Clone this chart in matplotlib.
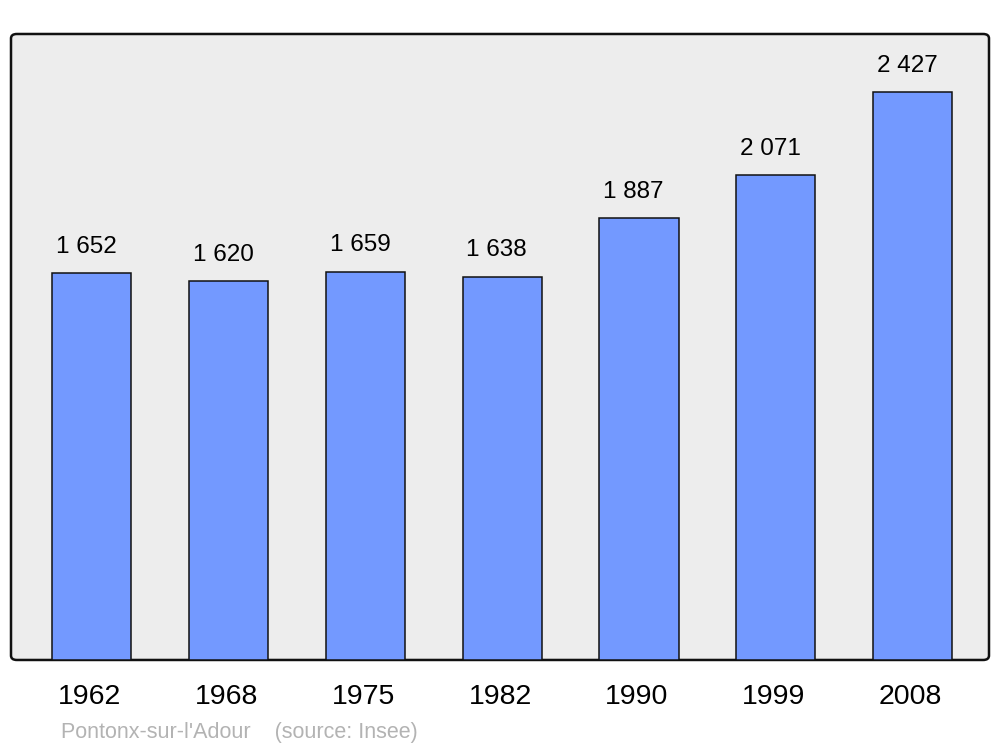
import matplotlib
matplotlib.use("Agg")
import matplotlib.pyplot as plt
from matplotlib.patches import FancyBboxPatch
from matplotlib.transforms import ScaledTranslation

years = ["1962", "1968", "1975", "1982", "1990", "1999", "2008"]
population = [1652, 1620, 1659, 1638, 1887, 2071, 2427]
value_labels = ["1 652", "1 620", "1 659", "1 638", "1 887", "2 071", "2 427"]
commune = "Pontonx-sur-l'Adour"
source = "(source: Insee)"

plt.rcParams['font.family'] = ['Liberation Sans', 'DejaVu Sans']

fig = plt.figure(figsize=(10, 7.47), dpi=100)
ax = fig.add_axes([0.011, 0.1165, 0.978, 0.838])
ax.set_facecolor('none')
for s in ax.spines.values():
    s.set_visible(False)

frame = FancyBboxPatch((0, 0), 1, 1, boxstyle="round,pad=0,rounding_size=0.006",
                       transform=ax.transAxes, facecolor='#ededed', edgecolor='#111111',
                       linewidth=1.8, clip_on=False, zorder=0, mutation_aspect=1.17)
ax.add_patch(frame)

x = list(range(len(years)))
bars = ax.bar(x, population, width=0.578, color='#7399ff', edgecolor='#111111',
              linewidth=1.1, zorder=2)
for xi, v, lab in zip(x, population, value_labels):
    ax.annotate(lab, (xi, v), xytext=(-4, 11), textcoords='offset points',
                ha='center', va='bottom', fontsize=17.5, color='black')

ax.set_xlim(-0.592, 6.559)
ax.set_ylim(0, 2675)
ax.set_yticks([])
ax.set_xticks(x, years)
ax.tick_params(axis='x', length=0, pad=17.5, labelsize=20.5)
for t in ax.get_xticklabels():
    t.set_transform(t.get_transform() + ScaledTranslation(-2 / 100, 0, fig.dpi_scale_trans))

fig.text(0.061, (747 - 738) / 747, commune + "    " + source, fontsize=15.5,
         color='#b3b3b3', ha='left', va='baseline')

fig.savefig("out.png", dpi=100)
